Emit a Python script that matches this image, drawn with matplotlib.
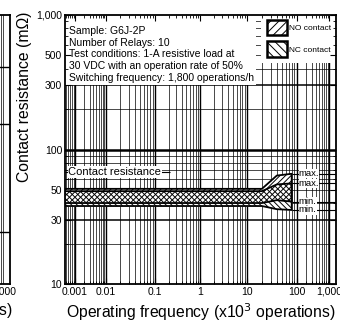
import numpy as np
import matplotlib
matplotlib.use("Agg")
import matplotlib.pyplot as plt
from matplotlib.patches import Rectangle, Patch
from matplotlib.ticker import FixedLocator, FixedFormatter, LogLocator, NullFormatter

plt.rcParams['font.family'] = ['Liberation Sans', 'DejaVu Sans']
plt.rcParams['hatch.linewidth'] = 0.7

# operations (x10^3) and contact resistance band edges (mOhm)
ops = [0.0004, 20, 40, 80]
no_max = [51, 51, 64, 66]
no_min = [40, 40, 42, 41]
nc_max = [49, 49, 55, 56]
nc_min = [38, 38, 36, 35.5]

x_ticks = [0.001, 0.01, 0.1, 1, 10, 100, 1000]
x_labels = ["0.001", "0.01", "0.1", "1", "10", "100", "1,000"]
y_ticks = [10, 30, 50, 100, 300, 500, 1000]
y_labels = ["10", "30", "50", "100", "300", "500", "1,000"]

notes = ["Sample: G6J-2P",
         "Number of Relays: 10",
         "Test conditions: 1-A resistive load at",
         "30 VDC with an operation rate of 50%",
         "Switching frequency: 1,800 operations/h"]

W, H = 340, 321
fig = plt.figure(figsize=(W / 100, H / 100), dpi=100)

# the scanned x axis is not evenly spaced per decade
dec = np.arange(-4, 5)
pos = np.array([44.5, 75, 105.5, 155, 200, 247, 296.5, 329, 361.5])


def fwd(x):
    x = np.asarray(x, dtype=float)
    with np.errstate(divide='ignore', invalid='ignore'):
        lx = np.log10(np.clip(x, 1e-12, None))
    return np.interp(lx, dec, pos)


def inv(p):
    return 10 ** np.interp(np.asarray(p, dtype=float), pos, dec)


left, right, top, bottom = 65, 336, 15, 284
ax = fig.add_axes([left / W, 1 - bottom / H, (right - left) / W, (bottom - top) / H])
ax.set_xscale('function', functions=(fwd, inv))
ax.set_yscale('log')
ax.set_xlim(inv(left), inv(right))
ax.set_ylim(10, 1000)

# grid drawn by hand so the white note boxes can sit over it
xlo, xhi = ax.get_xlim()
xgrid = [k * 10.0 ** d for d in range(-4, 4) for k in range(1, 10)]
for v in xgrid:
    if xlo < v < xhi:
        major = abs(np.log10(v) - round(np.log10(v))) < 1e-9
        ax.axvline(v, color='black', lw=1.0 if major else 0.5, zorder=0.5)
ygrid = [k * 10.0 ** d for d in range(1, 3) for k in range(1, 10)]
for v in ygrid:
    if 10 < v < 1000:
        lw = 0.5
        if v in (100,):
            lw = 1.8
        elif v in (30, 300):
            lw = 1.1
        ax.axhline(v, color='black', lw=lw, zorder=0.5)

# white boxes for the notes and the legend
ax.add_patch(Rectangle((0, 300), 0.705, 700, transform=ax.get_yaxis_transform(),
                       facecolor='white', edgecolor='none', zorder=1))
ax.add_patch(Rectangle((0.722, 440), 0.278, 560, transform=ax.get_yaxis_transform(),
                       facecolor='white', edgecolor='none', zorder=1))

ax.text(0.015, 0.958, "\n".join(notes), transform=ax.transAxes, va='top', ha='left',
        fontsize=7.5, linespacing=1.2, zorder=3)

# band
lo = np.minimum(no_min, nc_min)
hi = np.maximum(no_max, nc_max)
ax.fill_between(ops, lo, hi, color='white', lw=0, zorder=2)
ax.fill_between(ops, no_min, no_max, facecolor='none', edgecolor='black',
                hatch='//////', lw=1.3, zorder=2.2)
ax.fill_between(ops, nc_min, nc_max, facecolor='none', edgecolor='black',
                hatch='\\\\\\\\\\\\', lw=1.3, zorder=2.2)

# contact resistance label with leader
ax.hlines(68, 0, 0.387, transform=ax.get_yaxis_transform(), color='black', lw=0.8, zorder=2.5)
ax.text(0.012, 68, "Contact resistance", transform=ax.get_yaxis_transform(),
        fontsize=8, va='center', ha='left', zorder=3,
        bbox=dict(facecolor='white', edgecolor='none', pad=0.5))

# max/min leaders
for val, txt in [(no_max[-1], "max."), (nc_max[-1], "max."),
                 (no_min[-1], "min."), (nc_min[-1], "min.")]:
    ax.hlines(val, ops[-1], xhi, color='black', lw=0.8, zorder=2.5)
    ax.text(118, val, txt, fontsize=6.8, va='center', ha='left', zorder=3,
            bbox=dict(facecolor='white', edgecolor='none', pad=0.1))

handles = [Patch(facecolor='white', edgecolor='black', hatch='////', lw=1.8, label='NO contact'),
           Patch(facecolor='white', edgecolor='black', hatch='\\\\\\\\', lw=1.8, label='NC contact')]
leg = ax.legend(handles=handles, loc='upper right', frameon=False, fontsize=6,
                handlelength=2.4, handleheight=2.5, handletextpad=0.3,
                labelspacing=0.75, borderaxespad=0.35, borderpad=0.2)
leg.set_zorder(5)

ax.xaxis.set_major_locator(FixedLocator(x_ticks))
ax.xaxis.set_major_formatter(FixedFormatter(x_labels))
ax.xaxis.set_minor_locator(LogLocator(base=10, subs=np.arange(2, 10), numticks=20))
ax.xaxis.set_minor_formatter(NullFormatter())
ax.yaxis.set_major_locator(FixedLocator(y_ticks))
ax.yaxis.set_major_formatter(FixedFormatter(y_labels))
ax.yaxis.set_minor_locator(LogLocator(base=10, subs=np.arange(2, 10), numticks=20))
ax.yaxis.set_minor_formatter(NullFormatter())
ax.tick_params(which='both', direction='in', top=True, right=True, labelsize=7.5, pad=2)
ax.tick_params(which='major', length=4, width=0.8)
ax.tick_params(which='minor', length=2.5, width=0.6)
for s in ax.spines.values():
    s.set_linewidth(1.3)

ax.set_xlabel("Operating frequency (x10$^3$ operations)", fontsize=11.3, labelpad=3)
fig.text(25 / W, 1 - 97 / H, "Contact resistance (m\u03a9)", rotation=90,
         ha='center', va='center', fontsize=11.3)

# remnant of the neighbouring chart on the left edge
ax0 = fig.add_axes([-200 / W, 1 - bottom / H, 210 / W, (bottom - top) / H])
ax0.set_xscale('log')
ax0.set_yscale('log')
ax0.set_xlim(10 ** -1.51, 10 ** 3.156)
ax0.set_ylim(1, 10 ** (268 / 108))
ax0.set_xticks([1000])
ax0.set_xticklabels(["1,000"])
ax0.set_yticks([])
ax0.xaxis.set_minor_locator(LogLocator(base=10, subs=np.arange(2, 10), numticks=20))
ax0.xaxis.set_minor_formatter(NullFormatter())
ax0.grid(which='both', axis='x', color='black', lw=0.5)
for v in [3, 30, 100]:
    ax0.axhline(v, color='black', lw=1.0)
ax0.tick_params(which='both', direction='in', labelsize=7.5, pad=2, length=0)
for s in ax0.spines.values():
    s.set_linewidth(1.3)
fig.text(13 / W, 1 - 310 / H, "Operating frequency (x10$^3$ operations)", ha='right',
         va='center', fontsize=11.3)

fig.savefig("out.png", dpi=100)
